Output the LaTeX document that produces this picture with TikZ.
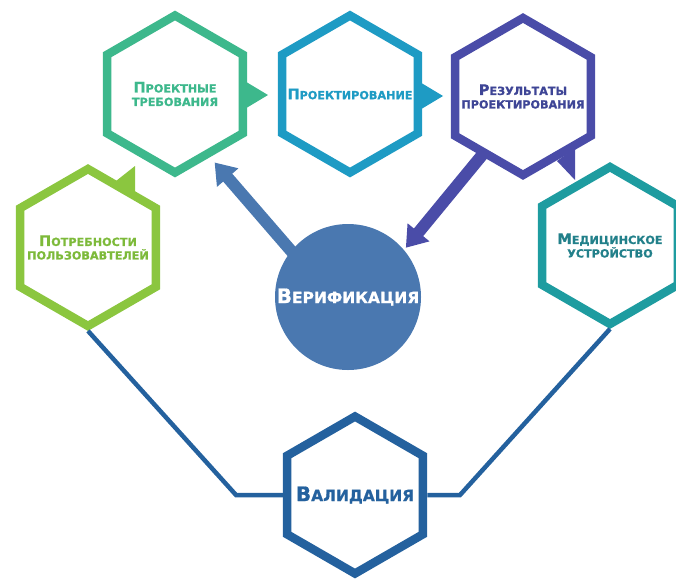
\documentclass[tikz,border=0pt]{standalone}
\usepackage{fontspec}
\setmainfont{DejaVu Sans}[BoldFeatures={FakeBold=0.9}]
\usetikzlibrary{shapes.geometric,arrows.meta}

\definecolor{reqcol}{HTML}{3DB88C}
\definecolor{descol}{HTML}{1E9BC4}
\definecolor{outcol}{HTML}{4A4CA8}
\definecolor{outtxt}{HTML}{3E4596}
\definecolor{needcol}{HTML}{8BC63F}
\definecolor{needtxt}{HTML}{7DBA3A}
\definecolor{devcol}{HTML}{1E9CA0}
\definecolor{devtxt}{HTML}{22808A}
\definecolor{valcol}{HTML}{24619E}
\definecolor{vercol}{HTML}{4A78B0}

% fake small caps: first letter large, the rest smaller capitals
\newcommand\hsc[2]{{\fontsize{14.5}{13.5}\selectfont #1}#2}
\newcommand\bsc[2]{{\fontsize{20}{20}\selectfont #1}{\fontsize{15.5}{20}\selectfont #2}}

\begin{document}
\begin{tikzpicture}[x=1pt,y=-1pt,
  hexa/.style={regular polygon, regular polygon sides=6, regular polygon rotate=30,
    minimum size=157pt, inner sep=0pt, line width=8.5pt, fill=white},
  hlabel/.style={inner sep=0pt, align=center, font=\bfseries\fontsize{11.2}{13.5}\selectfont},
  link/.style={valcol, line width=4.5pt, line join=miter},
  bigarrow/.style={line width=12pt, -{Triangle[width=27pt,length=20pt]}}]
\useasboundingbox (0,0) rectangle (676,579);

% hexagons
\node[hexa, draw=reqcol]  (req)   at (175,94)   {};
\node[hexa, draw=descol]  (des)   at (350,94)   {};
\node[hexa, draw=outcol]  (out)   at (523,96.5) {};
\node[hexa, draw=needcol] (needs) at (88,247.5) {};
\node[hexa, draw=devcol]  (dev)   at (610,245.5){};
\node[hexa, draw=valcol]  (val)   at (355,495)  {};

% hexagon captions
\node[hlabel, text=reqcol]  (reqlab)   at (req)   {\hsc{П}{РОЕКТНЫЕ}\\ТРЕБОВАНИЯ};
\node[hlabel, text=descol]  (deslab)   at (des)   {\hsc{П}{РОЕКТИРОВАНИЕ}};
\node[hlabel, text=outtxt]  (outlab)   at (out)   {\hsc{Р}{ЕЗУЛЬТАТЫ}\\ПРОЕКТИРОВАНИЯ};
\node[hlabel, text=needtxt] (needslab) at (needs) {\hsc{П}{ОТРЕБНОСТИ}\\ПОЛЬЗОВАВТЕЛЕЙ};
\node[hlabel, text=devtxt]  (devlab)   at (dev)   {\hsc{М}{ЕДИЦИНСКОЕ}\\УСТРОЙСТВО};
\node[hlabel, text=valcol]  (vallab)   at (val)   {\bsc{В}{АЛИДАЦИЯ}};

% validation links
\coordinate (lcorner) at (236,495);
\coordinate (rcorner) at (460,495);
\draw[link] (needs.-90) -- (lcorner) -- (val.180);
\draw[link] (dev.-90) -- (rcorner) -- (val.0);

% verification circle
\node[circle, fill=vercol, minimum size=146pt, inner sep=0pt, outer sep=0pt, text=white,
  font=\bfseries] (ver) at (348,297) {\bsc{В}{ЕРИФИКАЦИЯ}};

% verification arrows
\draw[bigarrow, vercol, shorten <=-4pt, shorten >=7pt] (ver.141) -- (req.-61);
\draw[bigarrow, outcol, shorten <=-4pt, shorten >=3pt] (out.-125) -- (ver.40);

% flow notches on hexagon edges
\fill[reqcol]  (243,80) -- (268,95) -- (243,110) -- cycle;
\fill[descol]  (418,81) -- (443,96) -- (418,111) -- cycle;
\fill[outcol]  (557,161) -- (575,148) -- (575,180) -- cycle;
\fill[needcol] (116,181) -- (135,166) -- (135,194) -- cycle;
\end{tikzpicture}
\end{document}
